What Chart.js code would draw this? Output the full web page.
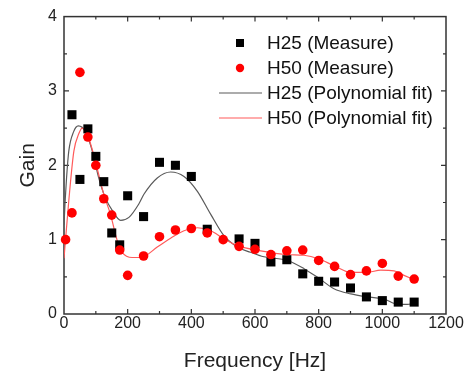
<!DOCTYPE html>
<html>
<head>
<meta charset="utf-8">
<script src="https://cdn.jsdelivr.net/npm/chart.js@4/dist/chart.umd.min.js"></script>
<style>
  html, body { margin: 0; padding: 0; background: #fff; }
</style>
</head>
<body>
<canvas id="chart" width="464" height="378"></canvas>
<script>
// measured points
const h25Freq = [25, 50, 75, 100, 125, 150, 175, 200, 250, 300, 350, 400, 450, 550, 600, 650, 700, 750, 800, 850, 900, 950, 1000, 1050, 1100];
const h25Gain = [2.68, 1.81, 2.49, 2.12, 1.78, 1.09, 0.93, 1.59, 1.31, 2.04, 2.0, 1.85, 1.14, 1.01, 0.95, 0.70, 0.73, 0.54, 0.44, 0.43, 0.35, 0.23, 0.18, 0.16, 0.16];

const h50Freq = [5, 25, 50, 75, 100, 125, 150, 175, 200, 250, 300, 350, 400, 450, 500, 550, 600, 650, 700, 750, 800, 850, 900, 950, 1000, 1050, 1100];
const h50Gain = [1.0, 1.36, 3.25, 2.38, 2.0, 1.55, 1.33, 0.86, 0.52, 0.78, 1.04, 1.13, 1.15, 1.09, 1.0, 0.91, 0.87, 0.80, 0.85, 0.86, 0.72, 0.64, 0.53, 0.58, 0.68, 0.51, 0.47];

// fitted curves
const h25FitFreq = [0, 4, 8, 15, 30, 45, 68, 89, 109, 130, 152, 178, 204, 235, 251, 293, 335, 377, 419, 461, 503, 545, 586, 628, 702, 754, 801, 848, 901, 953, 1006, 1048, 1079, 1100];
const h25FitGain = [1.2, 1.55, 1.83, 2.19, 2.45, 2.53, 2.45, 2.19, 1.83, 1.56, 1.39, 1.26, 1.30, 1.48, 1.61, 1.83, 1.91, 1.85, 1.65, 1.34, 1.05, 0.90, 0.83, 0.77, 0.72, 0.61, 0.48, 0.34, 0.27, 0.23, 0.20, 0.13, 0.13, 0.15];

const h50FitFreq = [0, 15, 31, 47, 57, 78, 104, 125, 146, 167, 183, 214, 240, 251, 293, 335, 377, 419, 461, 503, 545, 618, 702, 754, 801, 848, 901, 953, 995, 1037, 1068, 1100];
const h50FitGain = [0.75, 1.52, 2.19, 2.43, 2.50, 2.36, 1.96, 1.61, 1.34, 0.99, 0.83, 0.76, 0.76, 0.77, 0.90, 1.02, 1.12, 1.16, 1.12, 1.01, 0.92, 0.85, 0.80, 0.79, 0.74, 0.65, 0.56, 0.56, 0.59, 0.58, 0.52, 0.46];

const labels = ["H25 (Measure)", "H50 (Measure)", "H25 (Polynomial fit)", "H50 (Polynomial fit)"];

const toXY = (xs, ys) => xs.map((x, i) => ({ x, y: ys[i] }));
const FONT = "'Liberation Sans', Arial, sans-serif";

// box round the plot with inward ticks on all four sides
const frame = {
    id: "frame",
    beforeDatasetsDraw(chart) {
        const { ctx, chartArea: a, scales: { x, y } } = chart;
        ctx.save();
        ctx.strokeStyle = "#333";
        ctx.lineWidth = 1.5;
        ctx.strokeRect(a.left, a.top, a.right - a.left, a.bottom - a.top);
        ctx.lineWidth = 1.2;
        ctx.beginPath();
        for (let v = 100; v < 1200; v += 100) {
            const px = x.getPixelForValue(v);
            const len = v % 200 === 0 ? 5 : 3;
            ctx.moveTo(px, a.bottom); ctx.lineTo(px, a.bottom - len);
            ctx.moveTo(px, a.top); ctx.lineTo(px, a.top + len);
        }
        for (let v = 0.5; v < 4; v += 0.5) {
            const py = y.getPixelForValue(v);
            const len = v % 1 === 0 ? 5 : 3;
            ctx.moveTo(a.left, py); ctx.lineTo(a.left + len, py);
            ctx.moveTo(a.right, py); ctx.lineTo(a.right - len, py);
        }
        ctx.stroke();
        ctx.restore();
    }
};

// legend in the upper right of the plot
const legendBox = {
    id: "legendBox",
    afterDraw(chart) {
        const { ctx } = chart;
        const rows = [43, 68, 93, 118];
        ctx.save();
        ctx.font = "19px " + FONT;
        ctx.textBaseline = "middle";
        chart.data.datasets.forEach((ds, i) => {
            const yy = rows[i];
            if (ds.showLine) {
                ctx.strokeStyle = ds.borderColor;
                ctx.lineWidth = 1.2;
                ctx.beginPath(); ctx.moveTo(219, yy); ctx.lineTo(262, yy); ctx.stroke();
            } else {
                ctx.fillStyle = ds.backgroundColor;
                ctx.beginPath();
                if (ds.pointStyle === "rect") ctx.rect(236, yy - 4, 8, 8);
                else ctx.arc(240, yy, 4.2, 0, Math.PI * 2);
                ctx.fill();
            }
            ctx.fillStyle = "#111";
            ctx.fillText(ds.label, 267, yy + 1);
        });
        ctx.restore();
    }
};

new Chart(document.getElementById("chart"), {
    type: "scatter",
    data: {
        datasets: [
            { label: labels[0], data: toXY(h25Freq, h25Gain), pointStyle: "rect", pointRadius: 6.4,
              backgroundColor: "#000", borderColor: "#000", borderWidth: 0, clip: false, order: 2 },
            { label: labels[1], data: toXY(h50Freq, h50Gain), pointStyle: "circle", pointRadius: 4.8,
              backgroundColor: "#ff0000", borderColor: "#ff0000", borderWidth: 0, clip: false, order: 1 },
            { label: labels[2], data: toXY(h25FitFreq, h25FitGain), showLine: true, pointRadius: 0,
              borderColor: "#5a5a5a", borderWidth: 1.2, cubicInterpolationMode: "monotone", order: 4 },
            { label: labels[3], data: toXY(h50FitFreq, h50FitGain), showLine: true, pointRadius: 0,
              borderColor: "#ff5a5a", borderWidth: 1.2, cubicInterpolationMode: "monotone", order: 3 },
        ]
    },
    options: {
        responsive: false,
        animation: false,
        layout: { padding: { top: 14, right: 18, left: 0, bottom: 0 } },
        scales: {
            x: {
                type: "linear", min: 0, max: 1200,
                grid: { display: false, drawTicks: false },
                border: { display: false },
                ticks: { stepSize: 200, padding: 0, color: "#222", font: { family: FONT, size: 16 },
                         callback: v => String(v) },
                title: { display: true, text: "Frequency [Hz]", color: "#222",
                         font: { family: FONT, size: 21 }, padding: { top: 0, bottom: 4 } },
                afterFit(s) { s.height = 64; s.paddingLeft = 0; s.paddingRight = 0; },
            },
            y: {
                min: 0, max: 4,
                grid: { display: false, drawTicks: false },
                border: { display: false },
                ticks: { stepSize: 1, padding: 7, color: "#222", font: { family: FONT, size: 16 },
                         callback: v => String(v) },
                title: { display: true, text: "Gain", color: "#222",
                         font: { family: FONT, size: 21 }, padding: { top: 16, bottom: 0 } },
                afterFit(s) { s.width = 64; },
            }
        },
        plugins: { legend: { display: false }, tooltip: { enabled: false } }
    },
    plugins: [frame, legendBox]
});
</script>
</body>
</html>
